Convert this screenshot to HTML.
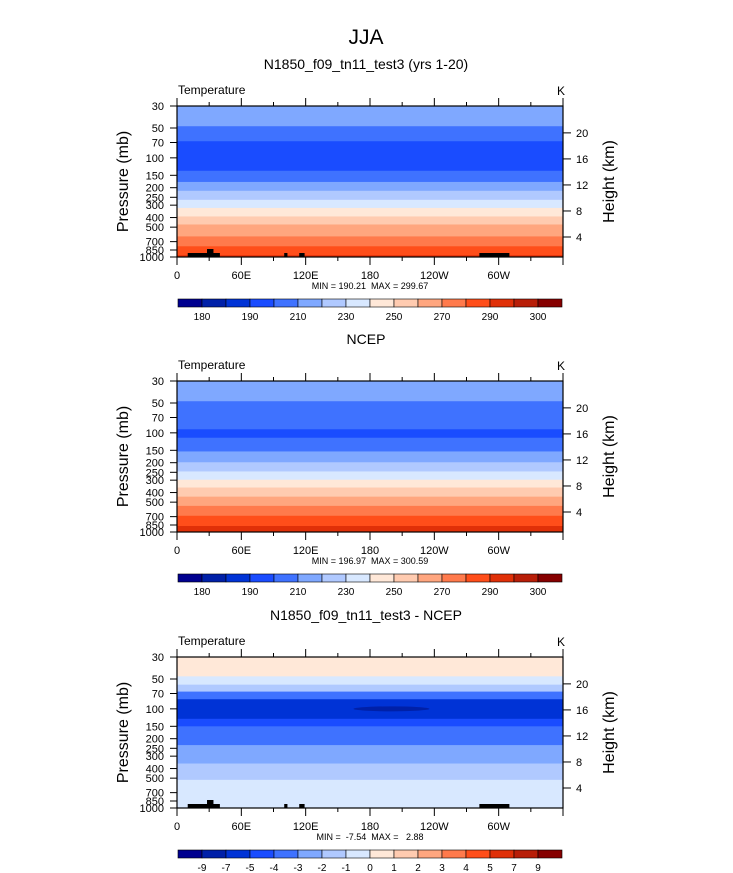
<!DOCTYPE html>
<html><head><meta charset="utf-8"><style>
body{margin:0;background:#fff}
svg{display:block;font-family:"Liberation Sans",sans-serif}
text{white-space:pre}
</style></head><body>
<svg id="c" width="733" height="873" xmlns="http://www.w3.org/2000/svg">
<text x="366" y="44" font-size="21" text-anchor="middle">JJA</text>
</svg>
<script>
const pressureTicks=[30,50,70,100,150,200,250,300,400,500,700,850,1000];
const heightTicks=[4,8,12,16,20];
const lonLabels=["0","60E","120E","180","120W","60W"];
const colors=["#00008f","#0020a8","#0033d6","#1a4cff","#3f72ff","#7fa8ff","#b0c9ff","#d8e8ff","#ffe8d8","#ffcbb0","#ffa67f","#ff7a4c","#ff4e1a","#e03008","#b81e08","#860000"];
const cbLabels1=["180","190","210","230","250","270","290","300"];
const cbLabels3=["-9","-7","-5","-4","-3","-2","-1","0","1","2","3","4","5","7","9"];
// panel 1 bands: bottom pressure of each band, colour index
const p1Bottoms=[48,68,135,175,215,265,320,390,470,620,780,960,1000];
const p1Colors=[5,4,3,4,5,6,7,8,9,10,11,12,13];
const p2Bottoms=[48,92,112,154,198,245,297,356,440,545,686,870,1000];
const p2Colors=[5,4,3,4,5,6,7,8,9,10,11,12,13];
const p3Bottoms=[47,57,67,80,126,150,232,356,520,1000];
const p3Colors=[8,7,6,4,2,3,4,5,6,7];
const panels=[
 {top:106,title:"N1850_f09_tn11_test3 (yrs 1-20)",bottoms:p1Bottoms,cols:p1Colors,minmax:"MIN = 190.21  MAX = 299.67",cb:cbLabels1,topo:true},
 {top:381,title:"NCEP",bottoms:p2Bottoms,cols:p2Colors,minmax:"MIN = 196.97  MAX = 300.59",cb:cbLabels1,topo:false},
 {top:657,title:"N1850_f09_tn11_test3 - NCEP",bottoms:p3Bottoms,cols:p3Colors,minmax:"MIN =  -7.54  MAX =   2.88",cb:cbLabels3,topo:true}
];
const svg=document.getElementById('c');
const NS="http://www.w3.org/2000/svg";
const L=177,R=563,H=151;
function el(t,a,txt){const e=document.createElementNS(NS,t);for(const k in a)e.setAttribute(k,a[k]);if(txt!==undefined)e.textContent=txt;svg.appendChild(e);return e;}
function yP(top,p){return top+Math.log(p/30)/Math.log(1000/30)*H;}
function yZ(top,z){return top+(1.04-0.0431*z)*H;}
function xLon(d){return L+d/360*(R-L);}
panels.forEach((P,pi)=>{
 const T=P.top;
 const t=el('text',{x:366,y:T-37,'font-size':14,'text-anchor':'middle'},P.title);
 
 let prev=30;
 P.bottoms.forEach((b,i)=>{
  const r=el('rect',{x:L,y:yP(T,prev),width:R-L,height:yP(T,b)-yP(T,prev)+0.5,fill:colors[P.cols[i]]});
  
  prev=b;
 });
 if(pi===2){
  const e=el('ellipse',{cx:xLon(200),cy:yP(T,100),rx:38,ry:2.5,fill:colors[1]});
  
 }
 if(P.topo){
  [[10,40,4],[28,34,8],[100,103,4],[114,119,4],[282,310,4]].forEach(s=>{
   const r=el('rect',{x:xLon(s[0]),y:T+H-s[2],width:xLon(s[1])-xLon(s[0]),height:s[2],fill:'#000'});
   
  });
 }
 const f=el('rect',{x:L,y:T,width:R-L,height:H,fill:'none',stroke:'#000','stroke-width':1.2});
 
 let tt=el('text',{x:178,y:T-12,'font-size':12},"Temperature");
 
 tt=el('text',{x:557,y:T-11,'font-size':12},"K");
 
 pressureTicks.forEach(p=>{
  const y=yP(T,p);
  el('line',{x1:L-7,x2:L,y1:y,y2:y,stroke:'#000'});
  const lt=el('text',{x:L-13,y:y+4,'font-size':11,'text-anchor':'end'},String(p));
  
 });
 heightTicks.forEach(z=>{
  const y=yZ(T,z);
  el('line',{x1:R,x2:R+8,y1:y,y2:y,stroke:'#000'});
  const lt=el('text',{x:R+13,y:y+4,'font-size':11},String(z));
  
 });
 for(let d=0;d<=360;d+=30){
  const x=xLon(d),len=d%60===0?8:4;
  el('line',{x1:x,x2:x,y1:T,y2:T-len,stroke:'#000'});
  el('line',{x1:x,x2:x,y1:T+H,y2:T+H+len,stroke:'#000'});
 }
 lonLabels.forEach((s,i)=>{
  const lt=el('text',{x:xLon(i*60),y:T+H+22,'font-size':11,'text-anchor':'middle'},s);
  
 });
 let yl=el('text',{x:0,y:0,'font-size':16,'text-anchor':'middle',transform:`translate(128,${T+H/2}) rotate(-90)`},"Pressure (mb)");
 
 yl=el('text',{x:0,y:0,'font-size':16,'text-anchor':'middle',transform:`translate(614,${T+H/2}) rotate(-90)`},"Height (km)");
 
 const mm=el('text',{x:370,y:T+H+32,'font-size':9,'text-anchor':'middle'},P.minmax);
 
 const cy=T+193,cw=(562-178)/16;
 colors.forEach((c,i)=>{
  const r=el('rect',{x:178+i*cw,y:cy,width:cw,height:8,fill:c,stroke:'#000','stroke-width':0.6});
  
 });
 if(P.cb.length===8){
  P.cb.forEach((s,i)=>{const lt=el('text',{x:178+(1+2*i)*cw,y:cy+21,'font-size':10,'text-anchor':'middle'},s);
   });
 }else{
  P.cb.forEach((s,i)=>{const lt=el('text',{x:178+(1+i)*cw,y:cy+21,'font-size':10,'text-anchor':'middle'},s);
   });
 }
});
</script>
</body></html>
